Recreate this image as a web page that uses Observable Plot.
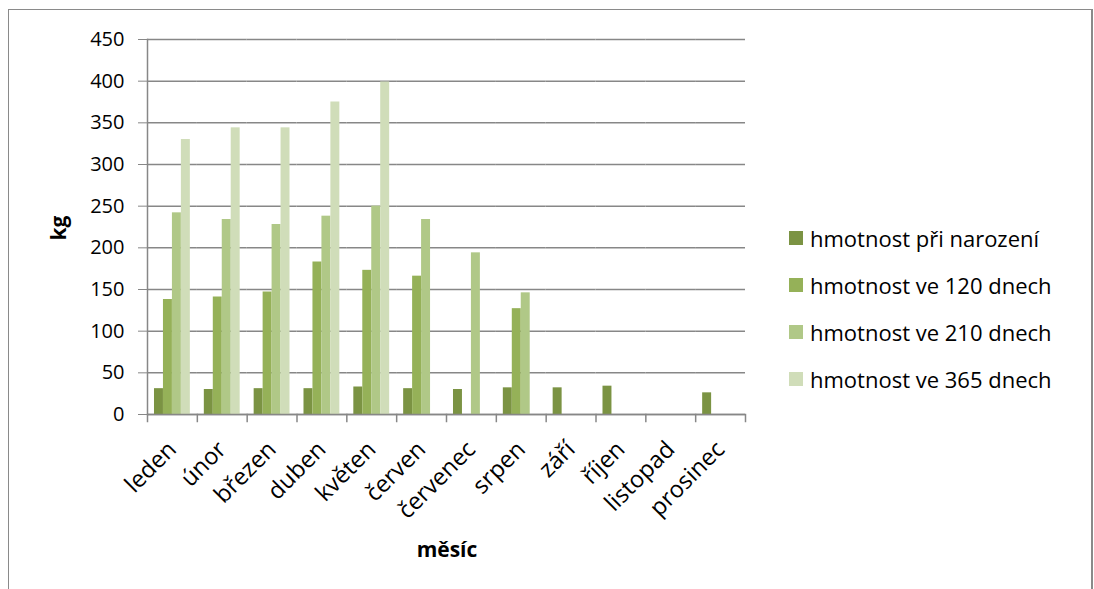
<!DOCTYPE html>
<html>
<head>
<meta charset="utf-8">
<script src="https://cdn.jsdelivr.net/npm/d3@7"></script>
<script src="https://cdn.jsdelivr.net/npm/@observablehq/plot@0.6"></script>
<style>
  body { margin: 0; background: #fff; font-family: "Open Sans", sans-serif; }
  #wrap { position: relative; width: 1094px; height: 589px; overflow: hidden; }
  #border { position: absolute; left: 8px; top: 9px; width: 1082px; height: 640px; border: 1px solid #8a8a8a; border-right: 2px solid #8a8a8a; }
  #chart { position: absolute; left: 0; top: 0; }
  .axlabel { position: absolute; font-weight: bold; font-size: 21px; color: #000; white-space: nowrap; }
  #legend { position: absolute; left: 789px; top: 214px; font-size: 22px; color: #000; }
  .item { display: flex; align-items: center; height: 47px; white-space: nowrap; }
  .sw { width: 14px; height: 14px; margin-right: 7px; }
</style>
</head>
<body>
<div id="wrap">
  <div id="border"></div>
  <div id="chart"></div>
  <div class="axlabel" id="ylab" style="left:58px; top:228px; transform: translate(-50%,-50%) rotate(-90deg);">kg</div>
  <div class="axlabel" id="xlab" style="left:447px; top:549px; transform: translate(-50%,-50%);">měsíc</div>
  <div id="legend"></div>
</div>
<script>
const months = ["leden", "únor", "březen", "duben", "květen", "červen", "červenec", "srpen", "září", "říjen", "listopad", "prosinec"];
const seriesNames = ["hmotnost při narození", "hmotnost ve 120 dnech", "hmotnost ve 210 dnech", "hmotnost ve 365 dnech"];
const birth = [31, 30, 31, 31, 33, 31, 30, 32, 32, 34, null, 26];
const d120 = [138, 141, 147, 183, 173, 166, null, 127, null, null, null, null];
const d210 = [242, 234, 228, 238, 250, 234, 194, 146, null, null, null, null];
const d365 = [330, 344, 344, 375, 399, null, null, null, null, null, null, null];
const colors = ["#7b9343", "#95b158", "#b0c887", "#d0ddb9"];
const yTicks = [0, 50, 100, 150, 200, 250, 300, 350, 400, 450];

const seriesValues = [birth, d120, d210, d365];
// keep every month (also empty ones) in the data so that every facet exists
const rows = [];
months.forEach((m, i) => {
  seriesNames.forEach((s, j) => {
    rows.push({month: m, series: s, value: seriesValues[j][i]});
  });
});

const W = 760, H = 580, mL = 147, mR = 15, mT = 39, mB = 166;
const plotH = H - mT - mB;
const gray = "#878787";

const chart = Plot.plot({
  width: W, height: H,
  marginLeft: mL, marginRight: mR, marginTop: mT, marginBottom: mB,
  style: {fontFamily: "Open Sans", fontSize: "20px", color: "#000", background: "transparent"},
  facet: {data: rows, x: "month"},
  fx: {domain: months, padding: 0, round: false, label: null},
  x: {domain: seriesNames, paddingInner: 0, paddingOuter: 0.78, round: false, axis: null},
  y: {domain: [0, 450], ticks: yTicks, label: null},
  color: {domain: seriesNames, range: colors},
  marks: [
    Plot.gridY(yTicks, {stroke: gray, strokeOpacity: 1, strokeWidth: 1.5}),
    Plot.barY(rows, {x: "series", y: "value", fill: "series"}),
    Plot.ruleY([0], {stroke: gray, strokeWidth: 1.5}),
    Plot.frame({anchor: "left", facetAnchor: "left", stroke: gray, strokeWidth: 1.5}),
    Plot.frame({anchor: "left", stroke: gray, strokeWidth: 1.5, insetTop: plotH, insetBottom: -7}),
    Plot.frame({anchor: "right", facetAnchor: "right", stroke: gray, strokeWidth: 1.5, insetTop: plotH, insetBottom: -7}),
    Plot.axisY(yTicks, {facetAnchor: "left", tickSize: 9, tickPadding: 14, stroke: gray, fill: "#000", fontSize: 20, label: null}),
    Plot.axisFx({anchor: "bottom", tickSize: 0, tickRotate: -45, tickPadding: 31, fontSize: 23.5, fill: "#000", label: null})
  ]
});
document.getElementById("chart").append(chart);

const legend = document.getElementById("legend");
seriesNames.forEach((s, j) => {
  const item = document.createElement("div");
  item.className = "item";
  const sw = document.createElement("div");
  sw.className = "sw";
  sw.style.background = colors[j];
  const t = document.createElement("span");
  t.textContent = s;
  item.append(sw, t);
  legend.append(item);
});
</script>
</body>
</html>
